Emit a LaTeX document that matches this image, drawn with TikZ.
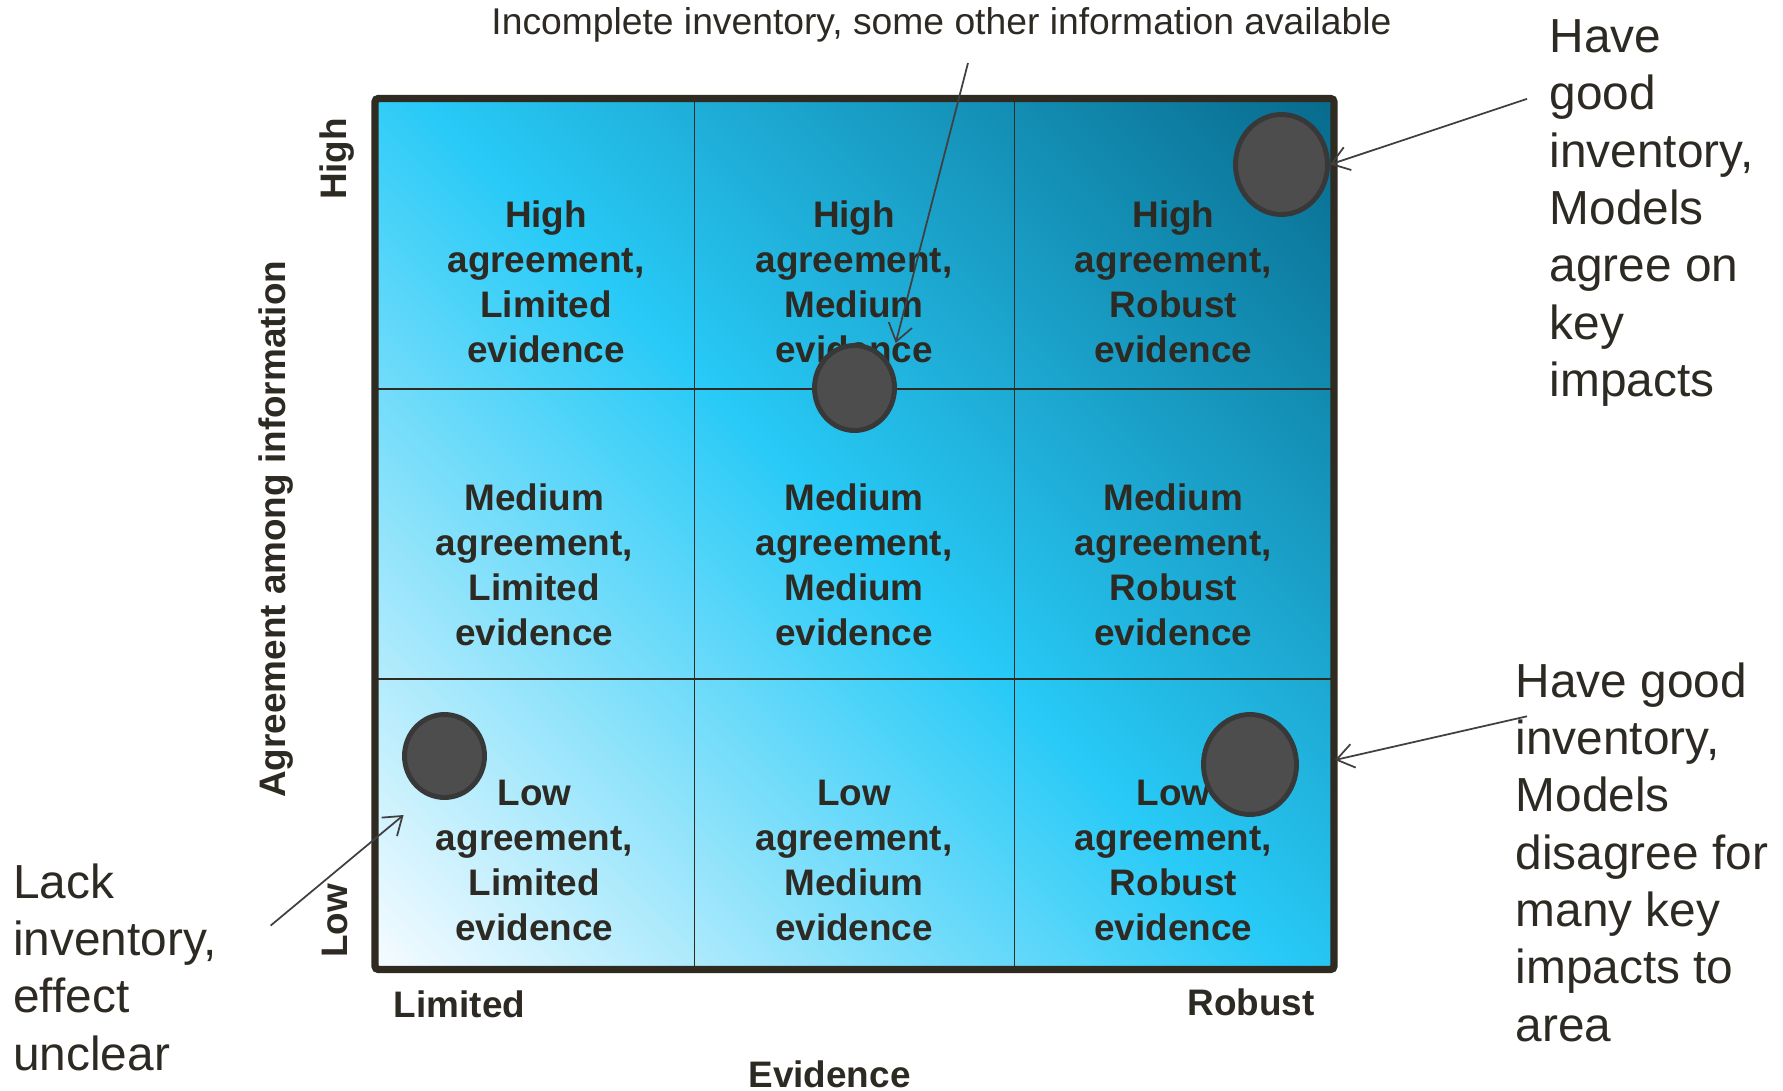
\documentclass[tikz,border=0pt]{standalone}
\usepackage{fontspec}
\setmainfont{Liberation Sans}
\usepackage{xcolor}
\usetikzlibrary{shapes.geometric, arrows.meta}
\definecolor{framebrown}{RGB}{47,43,32}
\definecolor{inkdark}{RGB}{45,42,35}
\definecolor{dotgray}{RGB}{77,77,77}
\definecolor{dotrim}{RGB}{56,56,56}
\definecolor{pointgray}{RGB}{64,64,64}
\definecolor{lowwhite}{RGB}{244,251,255}
\definecolor{midcyan}{RGB}{40,202,247}
\definecolor{highteal}{RGB}{8,108,142}
\pgfdeclarehorizontalshading{agreeshade}{100bp}{color(0bp)=(lowwhite); color(15bp)=(lowwhite); color(50bp)=(midcyan); color(85bp)=(highteal); color(100bp)=(highteal)}
\tikzstyle{cell} = [inner sep=0pt, align=center, text=inkdark, font=\bfseries\fontsize{10.5}{12.8}\selectfont]
\tikzstyle{axislabel} = [inner sep=0pt, text=inkdark, font=\bfseries\fontsize{10.5}{12.8}\selectfont]
\tikzstyle{note} = [inner sep=0pt, align=left, anchor=north west, text=inkdark, font=\fontsize{13.6}{16.3}\selectfont]
\tikzstyle{blob} = [ellipse, draw=dotrim, fill=dotgray, line width=1.4pt, inner sep=0pt]
\tikzstyle{gridline} = [draw=framebrown, line width=0.4pt]
\tikzstyle{pointer} = [draw=pointgray, line width=0.5pt, -{Straight Barb[length=1.7mm, width=2.4mm]}]

\begin{document}
\begin{tikzpicture} % evidence / agreement chart
\useasboundingbox (0,0) rectangle (17.83,10.90);
\path[shading=agreeshade, shading angle=45] (3.75,1.205) rectangle (13.34,9.915);
\path[gridline] (6.947,1.205) -- (6.947,9.915);
\path[gridline] (10.143,1.205) -- (10.143,9.915);
\path[gridline] (3.75,7.01) -- (13.34,7.01);
\path[gridline] (3.75,4.11) -- (13.34,4.11);
\draw[framebrown, line width=2.1pt, rounded corners=1pt] (3.75,1.205) rectangle (13.34,9.915);

\node[cell] (highLimited) at (5.46,8.086) {High\\agreement,\\Limited\\evidence};
\node[cell] (highMedium) at (8.54,8.086) {High\\agreement,\\Medium\\evidence};
\node[cell] (highRobust) at (11.734,8.086) {High\\agreement,\\Robust\\evidence};
\node[cell] (mediumLimited) at (5.344,5.249) {Medium\\agreement,\\Limited\\evidence};
\node[cell] (mediumMedium) at (8.54,5.249) {Medium\\agreement,\\Medium\\evidence};
\node[cell] (mediumRobust) at (11.734,5.249) {Medium\\agreement,\\Robust\\evidence};
\node[cell] (lowLimited) at (5.344,2.298) {Low\\agreement,\\Limited\\evidence};
\node[cell] (lowMedium) at (8.54,2.298) {Low\\agreement,\\Medium\\evidence};
\node[cell] (lowRobust) at (11.734,2.298) {Low\\agreement,\\Robust\\evidence};

\node[blob, minimum width=0.92cm, minimum height=1cm] (dotHigh) at (12.815,9.255) {};
\node[blob, minimum width=0.80cm, minimum height=0.85cm] (dotMid) at (8.545,7.02) {};
\node[blob, minimum width=0.80cm, minimum height=0.83cm] (dotLow) at (4.445,3.34) {};
\node[blob, minimum width=0.93cm, minimum height=1cm] (dotSpread) at (12.50,3.255) {};

\node[axislabel, rotate=90, anchor=base] (agreeAxis) at (2.85,5.607) {Agreement among information};
\node[axislabel, rotate=90, anchor=base] (highEnd) at (3.46,9.31) {High};
\node[axislabel, rotate=90, anchor=base] (lowEnd) at (3.47,1.69) {Low};
\node[axislabel, anchor=base] (limitedEnd) at (4.595,0.727) {Limited};
\node[axislabel, anchor=base] (robustEnd) at (12.51,0.75) {Robust};
\node[axislabel, anchor=base] (evidenceAxis) at (8.295,0.03) {Evidence};

\node[inner sep=0pt, text=inkdark, font=\fontsize{10.6}{12.8}\selectfont, anchor=base] (incompleteNote) at (9.415,10.55) {Incomplete inventory, some other information available};
\node[note] (goodAgree) at (15.49,10.71) {Have\\good\\inventory,\\Models\\agree on\\key\\impacts};
\node[note] (goodDisagree) at (15.15,4.28) {Have good\\inventory,\\Models\\disagree for\\many key\\impacts to\\area};
\node[note] (lackInventory) at (0.126,2.27) {Lack\\inventory,\\effect\\unclear};

\coordinate (incompleteTail) at (9.68,10.27);
\coordinate (incompleteTip) at (8.957,7.47);
\coordinate (agreeTail) at (15.27,9.911);
\coordinate (disagreeTail) at (15.27,3.737);
\coordinate (disagreeTip) at (13.35,3.30);
\coordinate (lackTail) at (2.706,1.644);
\coordinate (lackTip) at (4.036,2.75);
\draw[pointer] (incompleteTail) -- (incompleteTip);
\draw[pointer] (agreeTail) -- (dotHigh.east);
\draw[pointer] (disagreeTail) -- (disagreeTip);
\draw[pointer] (lackTail) -- (lackTip);
\end{tikzpicture}
\end{document}
